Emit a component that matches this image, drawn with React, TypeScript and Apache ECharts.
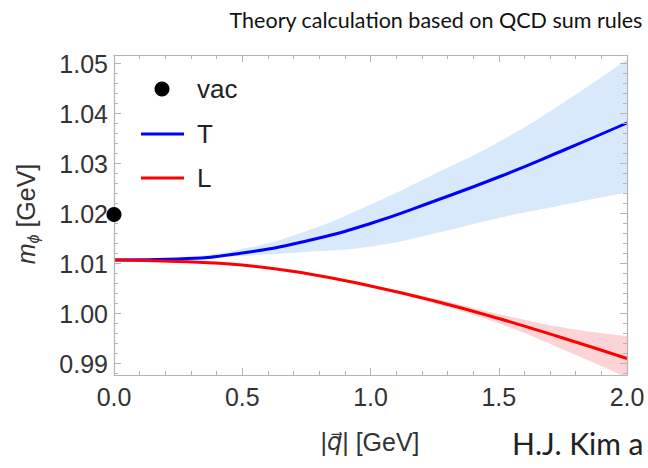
import React, { useEffect, useRef } from "react";
import * as echarts from "echarts";

// |q| [GeV]
const qValues = [0, 0.25, 0.5, 0.75, 1.0, 1.25, 1.5, 1.75, 2.0];
// transverse (T) mass and its band
const massT = [1.0107, 1.0109, 1.0121, 1.0145, 1.018, 1.0225, 1.0273, 1.0326, 1.0381];
const massTUpper = [1.0107, 1.0112, 1.0129, 1.0165, 1.0218, 1.0279, 1.0343, 1.0421, 1.0508];
const massTLower = [1.0107, 1.0108, 1.0115, 1.0123, 1.0134, 1.016, 1.0191, 1.0217, 1.0242];
// longitudinal (L) mass and its band
const massL = [1.0107, 1.0104, 1.0097, 1.008, 1.0055, 1.0025, 0.999, 0.9951, 0.991];
const massLUpper = [1.0107, 1.0105, 1.0098, 1.0081, 1.0057, 1.003, 0.9999, 0.9972, 0.9955];
const massLLower = [1.0107, 1.0103, 1.0096, 1.0079, 1.0053, 1.002, 0.998, 0.9928, 0.9872];
// vacuum value
const vacQ = [0];
const vacMass = [1.0198];

const xTicks = [0, 0.5, 1.0, 1.5, 2.0];
const yTicks = [0.99, 1.0, 1.01, 1.02, 1.03, 1.04, 1.05];

const FRAME = "#b4b4b4";
const LABEL = "#333333";

export default function App() {
  const ref = useRef<HTMLDivElement>(null);
  useEffect(() => {
    const chart = echarts.init(ref.current!, null, { renderer: "svg" });
    const pairs = (ys: number[]) => qValues.map((q, i) => [q, ys[i]]);
    const yMinor: number[] = [];
    for (let k = 988; k <= 1050; k += 2) {
      if (k % 10 !== 0) yMinor.push(k / 1000);
    }
    const font = "Liberation Sans";

    const xBase = (pos: "bottom" | "top", labels: boolean) => ({
      type: "value",
      position: pos,
      z: 10,
      min: xTicks[0],
      max: xTicks[xTicks.length - 1],
      interval: 0.5,
      axisLine: { show: true, onZero: false, lineStyle: { color: FRAME, width: 1.2 } },
      axisTick: { show: true, inside: true, length: 7, lineStyle: { color: FRAME, width: 1 } },
      minorTick: { show: true, splitNumber: 5, length: 4, lineStyle: { color: FRAME, width: 1 } },
      splitLine: { show: false },
      axisLabel: {
        show: labels,
        fontSize: 25,
        fontFamily: font,
        color: LABEL,
        margin: 9,
        formatter: (v: number) => v.toFixed(1),
      },
    });
    const yBase = (pos: "left" | "right", major: boolean, labels: boolean, line: boolean) => ({
      type: "value",
      position: pos,
      z: 10,
      min: 0.9877,
      max: 1.0517,
      axisLine: { show: line, onZero: false, lineStyle: { color: FRAME, width: 1.2 } },
      axisTick: {
        show: true,
        inside: true,
        length: major ? 7 : 4,
        customValues: major ? yTicks : yMinor,
        lineStyle: { color: FRAME, width: 1 },
      },
      splitLine: { show: false },
      axisLabel: {
        show: labels,
        customValues: yTicks,
        fontSize: 25,
        fontFamily: font,
        color: LABEL,
        margin: 6,
        formatter: (v: number) => v.toFixed(2),
      },
    });

    const bandEdge = (name: string, ys: number[], fill: string) => ({
      type: "line",
      name,
      data: pairs(ys),
      smooth: true,
      showSymbol: false,
      symbol: "none",
      lineStyle: { width: 0, opacity: 0 },
      areaStyle: { color: fill, opacity: 1, origin: "start" },
      silent: true,
      z: 1,
    });

    const option: any = {
      animation: false,
      backgroundColor: "#ffffff",
      grid: { left: 114, top: 55, right: 21, bottom: 93, containLabel: false },
      xAxis: [xBase("bottom", true), xBase("top", false)],
      yAxis: [
        yBase("left", true, true, true),
        yBase("left", false, false, false),
        yBase("right", true, false, true),
        yBase("right", false, false, false),
      ],
      series: [
        bandEdge("T band upper", massTUpper, "#d8e9fc"),
        bandEdge("T band lower", massTLower, "#ffffff"),
        bandEdge("L band upper", massLUpper, "#fcd4d5"),
        bandEdge("L band lower", massLLower, "#ffffff"),
        {
          type: "line",
          name: "T",
          data: pairs(massT),
          smooth: true,
          showSymbol: false,
          symbol: "none",
          lineStyle: { color: "#0000ff", width: 3 },
          z: 3,
        },
        {
          type: "line",
          name: "L",
          data: pairs(massL),
          smooth: true,
          showSymbol: false,
          symbol: "none",
          lineStyle: { color: "#ff0000", width: 3 },
          z: 3,
        },
        {
          type: "scatter",
          name: "vac",
          data: vacQ.map((q, i) => [q, vacMass[i]]),
          symbol: "circle",
          symbolSize: 15,
          itemStyle: { color: "#000000", opacity: 1 },
          clip: false,
          z: 12,
        },
      ],
      graphic: [
        {
          type: "text",
          x: 436,
          y: 20,
          style: {
            text: "Theory calculation based on QCD sum rules",
            font: "21.5px Lato",
            fill: "#111111",
            align: "center",
            verticalAlign: "middle",
          },
        },
        {
          type: "circle",
          shape: { cx: 162, cy: 89, r: 7.5 },
          style: { fill: "#000000" },
          z: 10,
        },
        {
          type: "text",
          x: 197,
          y: 89,
          style: { text: "vac", font: `26px '${font}'`, fill: "#222222", align: "left", verticalAlign: "middle" },
          z: 10,
        },
        {
          type: "line",
          shape: { x1: 141, y1: 134, x2: 184, y2: 134 },
          style: { stroke: "#0000ff", lineWidth: 3 },
          z: 10,
        },
        {
          type: "text",
          x: 197,
          y: 134,
          style: { text: "T", font: `26px '${font}'`, fill: "#222222", align: "left", verticalAlign: "middle" },
          z: 10,
        },
        {
          type: "line",
          shape: { x1: 141, y1: 178, x2: 184, y2: 178 },
          style: { stroke: "#ff0000", lineWidth: 3 },
          z: 10,
        },
        {
          type: "text",
          x: 197,
          y: 178,
          style: { text: "L", font: `26px '${font}'`, fill: "#222222", align: "left", verticalAlign: "middle" },
          z: 10,
        },
        {
          type: "text",
          x: 26,
          y: 214,
          rotation: Math.PI / 2,
          style: {
            text: "{m|m}{s|ϕ}{n| [GeV]}",
            align: "center",
            verticalAlign: "middle",
            fill: "#333333",
            rich: {
              m: { fontFamily: font, fontStyle: "italic", fontSize: 25, lineHeight: 30, fill: "#333333", verticalAlign: "middle" },
              s: { fontFamily: font, fontStyle: "italic", fontSize: 16, lineHeight: 30, fill: "#333333", verticalAlign: "bottom" },
              n: { fontFamily: font, fontSize: 25, lineHeight: 30, fill: "#333333", verticalAlign: "middle" },
            },
          },
        },
        {
          type: "text",
          x: 370,
          y: 442,
          style: {
            text: "{a||}{q|q⃗}{a|| [GeV]}",
            align: "center",
            verticalAlign: "middle",
            fill: "#333333",
            rich: {
              a: { fontFamily: font, fontSize: 25, fill: "#333333" },
              q: { fontFamily: "DejaVu Sans", fontStyle: "italic", fontSize: 24, fill: "#333333" },
            },
          },
        },
        {
          type: "text",
          x: 512,
          y: 443,
          style: {
            text: "H.J. Kim a",
            font: "30px Lato",
            fill: "#222222",
            align: "left",
            verticalAlign: "middle",
          },
        },
      ],
    };
    chart.setOption(option);
    return () => chart.dispose();
  }, []);
  return (
    <div
      ref={ref}
      style={{ position: "fixed", left: 0, top: 0, width: 648, height: 468, background: "#ffffff" }}
    />
  );
}
